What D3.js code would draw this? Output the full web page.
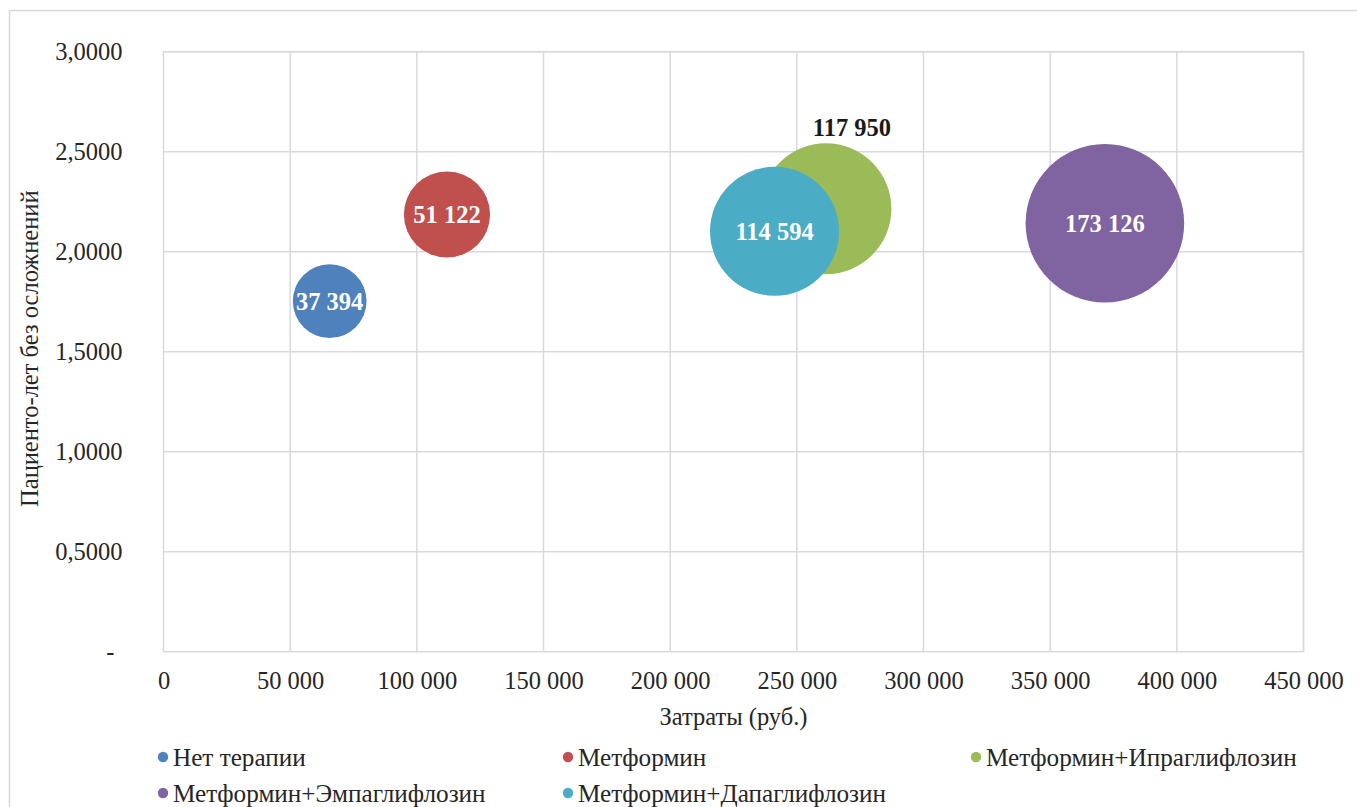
<!DOCTYPE html>
<html>
<head>
<meta charset="utf-8">
<script src="https://cdn.jsdelivr.net/npm/d3@7"></script>
<style>
  html, body { margin: 0; padding: 0; background: #fff; }
  svg { display: block; font-family: "Liberation Serif", "Times New Roman", serif; }
</style>
</head>
<body>
<svg id="chart" width="1357" height="807"></svg>
<script>
// Treatment strategies: cost (rub.), complication-free patient-years, bubble value
const series = ["Нет терапии", "Метформин", "Метформин+Ипраглифлозин", "Метформин+Эмпаглифлозин", "Метформин+Дапаглифлозин"];
const costs = [65600, 111900, 261500, 371600, 241200];
const patientYears = [1.753, 2.186, 2.215, 2.142, 2.102];
const bubbleValues = [37394, 51122, 117950, 173126, 114594];
const colors = ["#4F81BD", "#C0504D", "#9BBB59", "#8064A2", "#4BACC6"];

const xTicks = [0, 50000, 100000, 150000, 200000, 250000, 300000, 350000, 400000, 450000];
const yTicks = [0, 0.5, 1, 1.5, 2, 2.5, 3];
const xTitle = "Затраты (руб.)";
const yTitle = "Пациенто-лет без осложнений";

const svg = d3.select("#chart");
const plot = { left: 163.5, right: 1303.5, top: 51.7, bottom: 651.7 };
const gridColor = "#d9d9d9";
const textColor = "#262626";
const fs = 24.5;
const legendFs = 25.2;
const serif = "Liberation Serif, Times New Roman, serif";

const x = d3.scaleLinear().domain([0, 450000]).range([plot.left, plot.right]);
const y = d3.scaleLinear().domain([0, 3]).range([plot.bottom, plot.top]);
const r = d3.scaleSqrt().domain([0, d3.max(bubbleValues)]).range([0, 79.3]);

const fmtSpace = v => d3.format(",")(v).replace(/,/g, " ");
const fmtY = v => v === 0 ? "-" : d3.format(".4f")(v).replace(".", ",");

// chart area frame
svg.append("path")
  .attr("d", "M9.5,807 V10.5 H1357")
  .attr("fill", "none").attr("stroke", gridColor).attr("stroke-width", 1.5);

// gridlines
svg.append("g").selectAll("line").data(xTicks.slice(1)).join("line")
  .attr("x1", d => x(d)).attr("x2", d => x(d))
  .attr("y1", plot.top).attr("y2", plot.bottom)
  .attr("stroke", gridColor).attr("stroke-width", 1.5);
svg.append("g").selectAll("line").data(yTicks.slice(1)).join("line")
  .attr("x1", plot.left).attr("x2", plot.right)
  .attr("y1", d => y(d)).attr("y2", d => y(d))
  .attr("stroke", gridColor).attr("stroke-width", 1.5);
svg.append("rect")
  .attr("x", plot.left).attr("y", plot.top)
  .attr("width", plot.right - plot.left).attr("height", plot.bottom - plot.top)
  .attr("fill", "none").attr("stroke", gridColor).attr("stroke-width", 1.5);

// axes (labels only)
const xAxis = svg.append("g")
  .attr("transform", `translate(0,${plot.bottom + 17})`)
  .call(d3.axisBottom(x).tickValues(xTicks).tickFormat(fmtSpace).tickSize(0));
xAxis.select(".domain").remove();
xAxis.selectAll("text").attr("font-size", fs).attr("fill", textColor)
  .attr("font-family", serif);

const yAxis = svg.append("g")
  .attr("transform", `translate(${plot.left - 41},0)`)
  .call(d3.axisLeft(y).tickValues(yTicks).tickFormat(fmtY).tickSize(0).tickPadding(0));
yAxis.select(".domain").remove();
yAxis.selectAll("text").attr("font-size", fs).attr("fill", textColor)
  .attr("font-family", serif);
yAxis.selectAll(".tick").filter(d => d === 0).select("text").attr("dx", -8);

// axis titles
svg.append("text")
  .attr("x", (plot.left + plot.right) / 2).attr("y", 725)
  .attr("text-anchor", "middle").attr("font-size", fs).attr("fill", textColor)
  .text(xTitle);
svg.append("text")
  .attr("transform", `translate(38,${(plot.top + plot.bottom) / 2 - 3}) rotate(-90)`)
  .attr("text-anchor", "middle").attr("font-size", fs).attr("fill", textColor)
  .text(yTitle);

// bubbles
const data = series.map((name, i) => ({
  name, cost: costs[i], py: patientYears[i], value: bubbleValues[i], color: colors[i]
}));

svg.append("g").selectAll("circle").data(data).join("circle")
  .attr("cx", d => x(d.cost)).attr("cy", d => y(d.py)).attr("r", d => r(d.value))
  .attr("fill", d => d.color);

// value labels: white inside, except the bubble hidden behind its neighbour
const outside = "Метформин+Ипраглифлозин";
svg.append("g").selectAll("text").data(data).join("text")
  .attr("x", d => d.name === outside ? x(d.cost) + 26 : x(d.cost))
  .attr("y", d => d.name === outside ? y(d.py) - r(d.value) - 7 : y(d.py) + 8.5)
  .attr("text-anchor", "middle")
  .attr("font-size", fs).attr("font-weight", "bold")
  .attr("fill", d => d.name === outside ? "#1a1a1a" : "#ffffff")
  .text(d => fmtSpace(d.value));

// legend
const legendPos = [[163, 757], [568, 757], [976, 757], [163, 793], [568, 793]];
const legend = svg.append("g").selectAll("g").data(data).join("g")
  .attr("transform", (d, i) => `translate(${legendPos[i][0]},${legendPos[i][1]})`);
legend.append("circle").attr("r", 5.2).attr("fill", d => d.color);
legend.append("text")
  .attr("x", 10).attr("y", 8.5)
  .attr("font-size", legendFs).attr("fill", textColor)
  .text(d => d.name);
</script>
</body>
</html>
